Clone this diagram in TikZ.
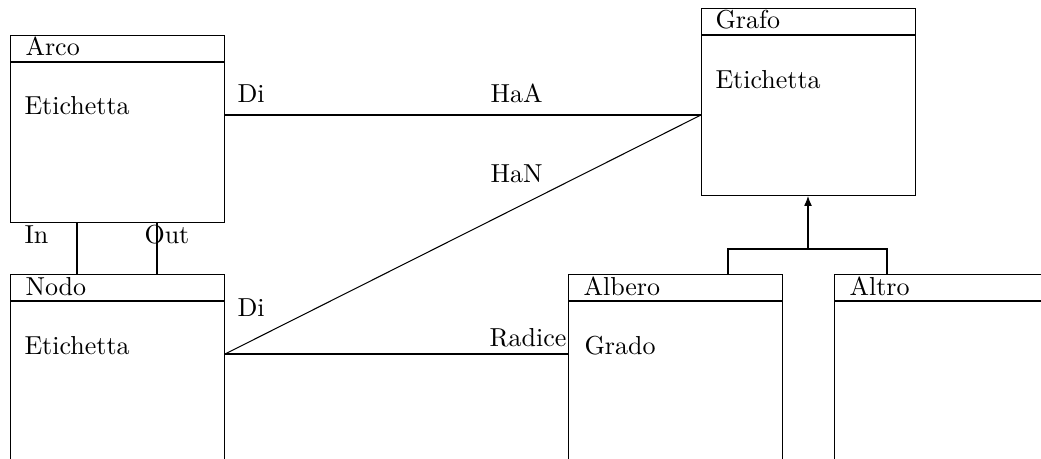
\documentclass[tikz,border=0pt]{standalone}
\usetikzlibrary{arrows.meta,calc}
\begin{document}
\begin{tikzpicture}[x=0.3846pt,y=-0.3846pt,
  cls/.style={draw,anchor=north west,inner sep=0pt,minimum width=82.3pt,minimum height=71.9pt},
  txt/.style={anchor=base west,inner sep=0pt},
  conn/.style={draw,line width=0.4pt},
  inh/.style={draw,-{Latex[length=3.8pt,width=3pt]}}]
\useasboundingbox (0,0) rectangle (1041,459);
\clip (0,0) rectangle (1041,459);
% classes
\node[cls] (arco) at (10,35) {};
\node[cls] (grafo) at (701,8) {};
\node[cls] (nodo) at (10,274) {};
\node[cls] (albero) at (568,274) {};
\node[cls] (altro) at (834,274) {};
% header lines
\foreach \c in {arco,grafo,nodo,albero,altro}
  \draw ($(\c.north west)+(0,27)$) -- ($(\c.north east)+(0,27)$);
% names
\node[txt] (arcoN) at (25,56) {Arco};
\node[txt] (grafoN) at (715,29) {Grafo};
\node[txt] (nodoN) at (25,295) {Nodo};
\node[txt] (alberoN) at (583,295) {Albero};
\node[txt] (altroN) at (849,295) {Altro};
% attributes
\node[txt] (arcoE) at (24,115) {Etichetta};
\node[txt] (grafoE) at (715,89) {Etichetta};
\node[txt] (nodoE) at (24,354) {Etichetta};
\node[txt] (alberoG) at (584,354) {Grado};
% connection points
\coordinate (arcoR) at (arco.east |- arcoE.base);
\coordinate (grafoL) at (grafo.west |- arcoE.base);
\coordinate (nodoR) at (nodo.east |- nodoE.base);
\coordinate (alberoL) at (albero.west |- nodoE.base);
% associations
\draw[conn] (arcoR) -- (grafoL);
\draw[conn] (nodoR) -- (grafoL);
\draw[conn] (nodoR) -- (alberoL);
\draw[conn] (arco.south west) ++(67,0) coordinate (inA) -- (inA |- nodo.north);
\draw[conn] (arco.south west) ++(147,0) coordinate (outA) -- (outA |- nodo.north);
% association labels
\node[txt] (di1) at (237,103) {Di};
\node[txt] (haa) at (490,103) {HaA};
\node[txt] (han) at (490,183) {HaN};
\node[txt] (di2) at (237,316) {Di};
\node[anchor=base east,inner sep=0pt] (rad) at (567,346) {Radice};
\node[txt] (inL) at (24,243) {In};
\node[txt] (outL) at (144,243) {Out};
% inheritance
\coordinate (gb) at ($(grafo.south west)+(107,0)$);
\coordinate (hj) at ($(gb)+(0,53)$);
\coordinate (at1) at ($(albero.north west)+(160,0)$);
\coordinate (at2) at ($(altro.north west)+(53,0)$);
\draw (at1) -- (at1 |- hj) -- (at2 |- hj) -- (at2);
\draw[inh] (hj) -- (gb);
\end{tikzpicture}
\end{document}
